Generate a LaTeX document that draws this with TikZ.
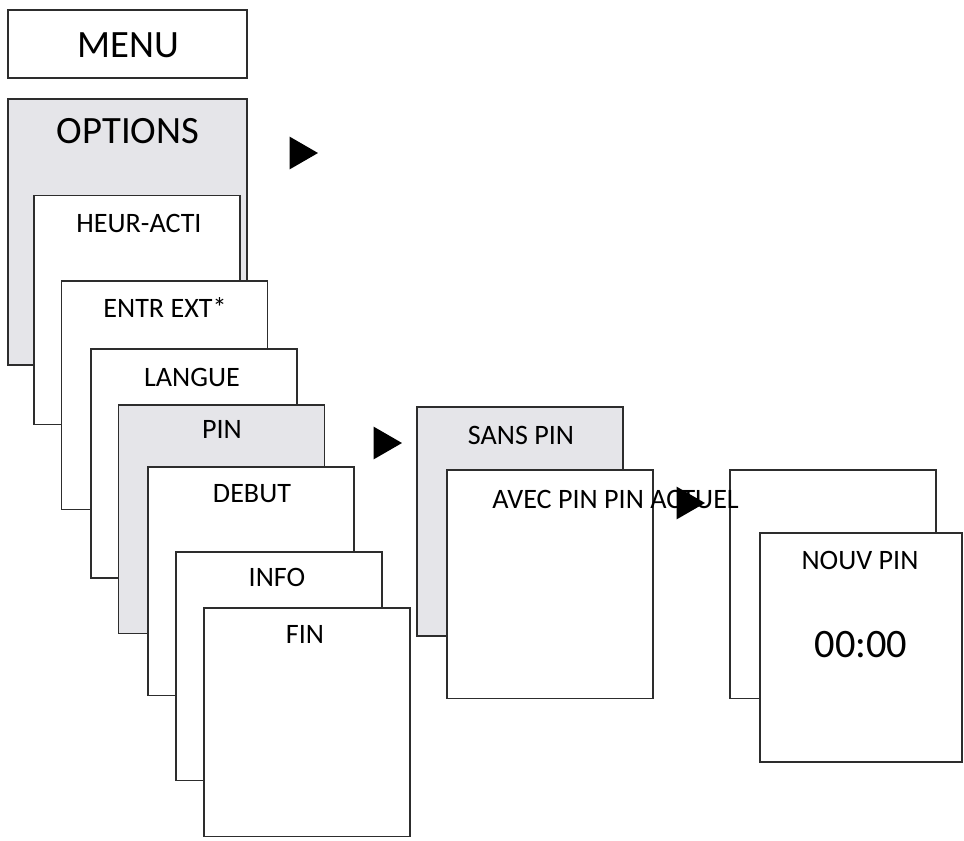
\documentclass[tikz,border=0pt]{standalone}
\usepackage{fontspec}
\setmainfont{Carlito}
\usetikzlibrary{shapes.geometric}
\definecolor{scrgray}{RGB}{229,229,233}
\definecolor{edge}{RGB}{45,45,45}

\begin{document}
\begin{tikzpicture}[x=0.02cm,y=-0.02cm,
  scr/.style={draw=edge,line width=1.1pt,fill=white,inner sep=0pt,
    minimum width=4.12cm,minimum height=4.58cm},
  sel/.style={scr,fill=scrgray},
  lbl/.style={font=\fontsize{16}{19}\selectfont,inner sep=0pt},
  big/.style={font=\fontsize{22}{26}\selectfont,inner sep=0pt},
  tri/.style={regular polygon,regular polygon sides=3,shape border rotate=-90,
    fill=black,inner sep=0pt,minimum size=0.76cm}]
\useasboundingbox (0,0) rectangle (964,840);

% top level
\node[scr,minimum width=4.78cm,minimum height=1.36cm] (menu) at (127.5,44) {};
\node[big] (menuT) at (128,45) {MENU};
\node[sel,minimum width=4.78cm,minimum height=5.32cm] (opt) at (127.5,232) {};
\node[big] (optT) at (128,131) {OPTIONS};
\node[tri] (go1) at (299,153) {};

% options list
\node[scr] (heur) at (137,310) {};
\node[lbl] (heurT) at (139,223) {HEUR-ACTI};
\node[scr] (entr) at (164.5,395) {};
\node[lbl] (entrT) at (165,308) {ENTR EXT*};
\node[scr] (lang) at (194,463.5) {};
\node[lbl] (langT) at (192,377) {LANGUE};
\node[sel] (pin) at (221.5,519) {};
\node[lbl] (pinT) at (222,429) {PIN};
\node[scr] (debut) at (251,581) {};
\node[lbl] (debutT) at (252,494) {DEBUT};
\node[scr] (info) at (279,666) {};
\node[lbl] (infoT) at (277,577) {INFO};
\node[scr] (fin) at (307,722) {};
\node[lbl] (finT) at (305,634) {FIN};
\node[tri] (go2) at (383,443) {};

% PIN submenu
\node[sel] (sans) at (520,521.5) {};
\node[lbl] (sansT) at (521,435) {SANS PIN};
\node[scr] (avec) at (550,584) {};
\node[scr] (actuel) at (833,584) {};
\node[lbl,anchor=west] (avecT) at (492,499) {AVEC PIN PIN ACTUEL};
\node[tri] (go3) at (686,503) {};

% new PIN
\node[scr,minimum width=4.04cm] (nouv) at (861,647.5) {};
\node[lbl] (nouvT) at (860,560) {NOUV PIN};
\node[big,font=\fontsize{23}{27}\selectfont] (code) at (861,645) {00:00};
\end{tikzpicture}
\end{document}
